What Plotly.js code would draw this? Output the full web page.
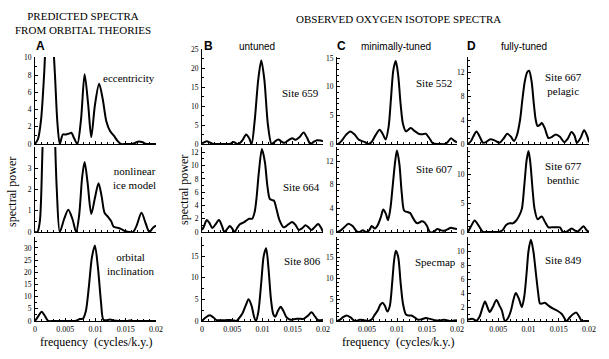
<!DOCTYPE html>
<html>
<head>
<meta charset="utf-8">
<script src="https://cdn.plot.ly/plotly-3.0.1.min.js"></script>
<style>html,body{margin:0;padding:0;background:#fff;}#chart{width:609px;height:359px;}</style>
</head>
<body>
<div id="chart"></div>
<script>
// ---------- DATA (frequency in cycles/k.y., spectral power) ----------
const ecc_f = [0,0.0005,0.001,0.0015,0.002,0.0024,0.0028,0.0033,0.0037,0.0041,0.0046,0.0051,0.0056,0.006,0.0065,0.007,0.0076,0.0082,0.0088,0.0093,0.0099,0.0106,0.0112,0.0118,0.0124,0.013,0.0136,0.0142,0.015,0.016,0.0166,0.0172,0.0178,0.0184,0.019,0.02];
const ecc_p = [0,0.6,2.8,8,15,17,14,8,2.5,0,1.1,1.1,1.2,1.3,0.6,0,2.8,8.1,4.5,0.8,4.5,7,5.2,2.6,1.5,1,0.4,0,0,0,0.15,0.3,0.2,0,0,0];

const ice_f = [0,0.0004,0.0008,0.0012,0.0016,0.002,0.0024,0.0028,0.0032,0.0036,0.0041,0.0048,0.0055,0.0062,0.0068,0.0073,0.0078,0.0082,0.0087,0.0093,0.0099,0.0105,0.011,0.0115,0.0121,0.0126,0.013,0.0136,0.0142,0.0148,0.0155,0.0162,0.0168,0.0176,0.0183,0.0189,0.0195,0.02];
const ice_p = [0,0,0.5,3.5,8,12,13,10,5.5,2,0,0.6,1.05,0.6,0,0.8,2.6,3.3,2.3,0.85,1.6,2.3,1.7,0.9,0.7,0.5,0.25,0.2,0.15,0.05,0,0,0.3,0.9,0.4,0,0.2,0.3];

const inc_f = [0,0.0005,0.0011,0.0017,0.0022,0.003,0.004,0.005,0.006,0.0068,0.0074,0.0079,0.0084,0.0089,0.0094,0.0099,0.0104,0.0109,0.0113,0.0118,0.0124,0.013,0.014,0.0152,0.0157,0.0163,0.017,0.018,0.019,0.02];
const inc_p = [0,1.8,3.8,1.8,0,0,0,0,0,0.1,0.8,0.9,4,14,26,31,22,8,0.5,0.3,0.6,0.2,0,0,0.25,0,0,0,0,0];

const s659_f = [0,0.0003,0.0008,0.0013,0.0019,0.003,0.004,0.0046,0.0052,0.006,0.0067,0.0073,0.0078,0.0082,0.0087,0.0093,0.0098,0.0103,0.0109,0.0115,0.012,0.0126,0.0131,0.0136,0.0142,0.0149,0.0155,0.0161,0.0168,0.0174,0.0179,0.0185,0.019,0.0196,0.02];
const s659_p = [0.2,0.4,0.7,0.4,0,0,0,0,0.5,0,1,2.5,1.5,0,6,17,22,17,5,0,0.6,1.2,0.7,0.3,0.9,1.5,1.1,1.8,3,1.5,0,0.6,1,0.9,0.7];

const s664_f = [0,0.0003,0.0008,0.0012,0.0017,0.0022,0.0028,0.0033,0.0037,0.0042,0.0046,0.005,0.0054,0.0058,0.0063,0.0068,0.0073,0.0078,0.0083,0.0087,0.009,0.0094,0.0099,0.0104,0.0108,0.0112,0.0116,0.0119,0.0123,0.0128,0.0135,0.0142,0.0149,0.0155,0.016,0.0166,0.0171,0.0176,0.0181,0.0186,0.0192,0.0197,0.02];
const s664_p = [0.3,0.8,1.8,1.4,0.6,1.1,1.8,0.9,0,0.5,0.9,0.5,0,0.6,1.2,1.4,1.7,2,2,3,5,9,12.5,10.5,7,5,4.8,4.7,3.5,1.8,0.7,1.1,1.5,1,0.3,0.6,1,0.7,0.3,0.7,1.2,0.6,0];

const s806_f = [0,0.0006,0.0013,0.0019,0.0024,0.003,0.004,0.005,0.0057,0.0062,0.0067,0.0072,0.0077,0.0082,0.0086,0.0089,0.0093,0.0098,0.0102,0.0106,0.011,0.0114,0.0118,0.0121,0.0126,0.013,0.0135,0.014,0.0146,0.0152,0.0157,0.0163,0.0168,0.0175,0.0181,0.0187,0.0192,0.0197,0.02];
const s806_p = [0,0.8,1.3,0.8,0.2,0.2,0.2,0.2,0,0.8,1.8,3.5,5,3.5,1,0,2,9,15,16.8,12,5,1.5,1,2.5,3.3,2.2,0.8,0.3,0.4,0.5,0.5,0.5,1.2,2,1,0.2,0.2,0.3];

const s552_f = [0,0.0002,0.0008,0.0015,0.0022,0.0029,0.0036,0.0042,0.0047,0.0052,0.0058,0.0064,0.0071,0.0076,0.0081,0.0086,0.009,0.0094,0.0098,0.0102,0.0106,0.011,0.0115,0.0119,0.0123,0.0129,0.0136,0.0142,0.0148,0.0154,0.016,0.017,0.018,0.0185,0.019,0.0195,0.02];
const s552_p = [0,0,0.6,1.6,2.2,1.7,0.8,0.5,0.3,0,0.4,1.5,2.5,1.8,0.8,3,8,13,14.5,12,7,3.5,2.2,2.5,2.8,2.3,1.8,1.7,1.8,1,0.1,0,0,0.4,1,0.6,0.3];

const s607_f = [0,0.0005,0.0012,0.0019,0.0026,0.0033,0.0038,0.0043,0.0048,0.0053,0.0058,0.0063,0.0068,0.0073,0.0077,0.0081,0.0085,0.0089,0.0093,0.0097,0.01,0.0104,0.0108,0.0112,0.0117,0.0122,0.0127,0.0133,0.0137,0.0141,0.0146,0.015,0.0155,0.0161,0.0167,0.0173,0.0179,0.0185,0.019,0.0195,0.02];
const s607_p = [0,0.2,0.8,1.4,1,0.1,0,0.3,0,0.2,1,0.6,1.2,2.5,3.8,3.2,2,4,8,12,13.8,11.5,6.5,3.6,3.4,3.2,2.3,1.5,1.6,1.8,1.6,1,0,0,0.5,0.3,0.2,0.5,0.7,0.6,0.5];

const spec_f = [0,0.0005,0.001,0.0016,0.0022,0.003,0.0038,0.0045,0.0052,0.0058,0.0063,0.0068,0.0072,0.0076,0.008,0.0084,0.0088,0.0092,0.0095,0.0098,0.0102,0.0106,0.011,0.0115,0.012,0.0124,0.013,0.0135,0.0141,0.0148,0.0155,0.0163,0.017,0.0178,0.0185,0.019,0.0195,0.02];
const spec_p = [0,0.3,0.9,1.3,0.9,0,0.3,0.2,0,0.4,1.5,2.5,3.8,4.3,3.5,2.2,3.5,9,14,16.5,15,9,4,1.5,1.3,1.3,0.8,0.3,0.4,0.7,0.5,0.2,0.1,0.3,0.1,0,0.1,0.2];

const s667_f = [0,0.0005,0.0009,0.0014,0.0019,0.0025,0.0031,0.0037,0.0044,0.0052,0.0058,0.0065,0.0071,0.0076,0.0081,0.0086,0.009,0.0094,0.0098,0.0101,0.0105,0.0109,0.0112,0.0115,0.0119,0.0122,0.0127,0.0133,0.0139,0.0145,0.0152,0.0159,0.0165,0.0171,0.0176,0.018,0.0186,0.0192,0.0197,0.02];
const s667_p = [0,0.5,1.3,2.1,1.3,0.2,0.4,0.8,0.6,0.2,0.8,1.7,1.2,0.5,1.5,4,7.5,10.5,12,12.2,10.5,6.5,4,3,3.2,3.5,2.6,1,1.2,1.6,1.2,0.3,0.9,2,1.4,0.2,1,2.3,1.3,0.3];

const s677_f = [0,0.0005,0.0011,0.0017,0.0025,0.003,0.004,0.0049,0.0057,0.0063,0.0069,0.0074,0.0079,0.0084,0.0089,0.0093,0.0097,0.01,0.0103,0.0107,0.011,0.0115,0.0119,0.0122,0.0127,0.0133,0.0138,0.0144,0.0152,0.0157,0.0164,0.0171,0.0176,0.0181,0.0186,0.0191,0.0196,0.02];
const s677_p = [0,1,2,1.2,0,0,0,0,0.3,1.2,1.5,1.5,1.9,2.7,4,8,12.5,14,12,7,4,2.2,2.5,2.7,1.8,0.8,0.8,0.8,0.8,0,0.1,0.6,0.3,0.1,0.5,1,0.3,0];

const s849_f = [0,0.0008,0.0014,0.0019,0.0024,0.0028,0.0032,0.0036,0.0041,0.0047,0.0052,0.0056,0.0061,0.0066,0.0071,0.0075,0.0079,0.0084,0.0089,0.0093,0.0097,0.01,0.0104,0.0108,0.0112,0.0116,0.0119,0.0123,0.0127,0.0133,0.014,0.0147,0.0155,0.0163,0.0168,0.0174,0.0179,0.0184,0.0188,0.0194,0.02];
const s849_p = [0.2,0.3,0.05,0.6,1.9,2.8,2,1.3,2,3,2.2,1.5,0,0.4,1.5,3,4,3.2,2,3.5,7,10,11.6,10,7,4,2.5,2.5,2.6,2.2,1.8,1.5,1,0,0.5,1,1.2,0.6,0,0,0];

const xTickVals = [0, 0.005, 0.01, 0.015, 0.02];
const xTickText = ['0', '0.005', '0.01', '0.015', '0.02'];

// ---------- PANELS ----------
const W = 609, H = 359;
const colX = [[35,156],[202,323],[337,457],[468,589]];
const rowY = [[57,144],[147,232],[237,321]];

const panels = [
  {f: ecc_f,  p: ecc_p,  c:0, r:0, range:[0,10.1], tv:[0,2,4,6,8,10], minor:1},
  {f: ice_f,  p: ice_p,  c:0, r:1, range:[0,4],    tv:[0,1,2,3], minor:0.5},
  {f: inc_f,  p: inc_p,  c:0, r:2, range:[0,34.5], tv:[0,5,10,15,20,25,30], minor:2.5},
  {f: s659_f, p: s659_p, c:1, r:0, range:[0,25],   tv:[0,5,10,15,20,25], minor:2.5, top:49},
  {f: s664_f, p: s664_p, c:1, r:1, range:[0,12.8], tv:[0,2,4,6,8,10,12], minor:1},
  {f: s806_f, p: s806_p, c:1, r:2, range:[0,19.4], tv:[0,5,10,15], minor:2.5},
  {f: s552_f, p: s552_p, c:2, r:0, range:[0,15.2], tv:[0,5,10,15], minor:1},
  {f: s607_f, p: s607_p, c:2, r:1, range:[0,14.4], tv:[0,4,8,12], minor:1},
  {f: spec_f, p: spec_p, c:2, r:2, range:[0,19.7], tv:[0,5,10,15], minor:1},
  {f: s667_f, p: s667_p, c:3, r:0, range:[0,14.5], tv:[0,4,8,12], minor:1},
  {f: s677_f, p: s677_p, c:3, r:1, range:[0,14.7], tv:[0,5,10], minor:1},
  {f: s849_f, p: s849_p, c:3, r:2, range:[0,12],   tv:[0,2,4,6,8,10], minor:1}
];

const serif = 'Liberation Serif, Times New Roman, serif';
const sans = 'Liberation Sans, Arial, sans-serif';

const data = [];
const layout = {
  width: W, height: H,
  margin: {l:0, r:0, t:0, b:0},
  paper_bgcolor: '#fff', plot_bgcolor: 'rgba(0,0,0,0)',
  showlegend: false,
  annotations: []
};

panels.forEach((pn, i) => {
  const n = i === 0 ? '' : String(i + 1);
  const top = pn.top !== undefined ? pn.top : rowY[pn.r][0];
  const bottom = rowY[pn.r][1];
  data.push({
    x: pn.f, y: pn.p, type: 'scatter', mode: 'lines',
    xaxis: 'x' + n, yaxis: 'y' + n,
    line: {color: '#000', width: 2, shape: 'spline', smoothing: 0.8},
    hoverinfo: 'skip'
  });
  const bottomRow = pn.r === 2;
  let ttext = xTickText.slice();
  if (pn.c >= 2) ttext[0] = '';
  layout['xaxis' + n] = {
    domain: [colX[pn.c][0] / W, colX[pn.c][1] / W],
    anchor: 'y' + n,
    range: [0, 0.02],
    showline: true, linecolor: '#000', linewidth: 1,
    ticks: 'inside', ticklen: 3, tickwidth: 1, tickcolor: '#000',
    tickmode: 'array', tickvals: xTickVals, ticktext: ttext,
    minor: {ticks: 'inside', ticklen: 2, tickcolor: '#000', dtick: 0.001, tick0: 0, showgrid: false},
    showticklabels: bottomRow,
    tickfont: {family: serif, size: 8, color: '#000'},
    showgrid: false, zeroline: false, fixedrange: true
  };
  layout['yaxis' + n] = {
    domain: [1 - bottom / H, 1 - top / H],
    anchor: 'x' + n,
    range: pn.range,
    showline: true, linecolor: '#000', linewidth: 1,
    ticks: 'inside', ticklen: 3, tickwidth: 1, tickcolor: '#000',
    tickmode: 'array', tickvals: pn.tv,
    minor: {ticks: 'inside', ticklen: 2, tickcolor: '#000', dtick: pn.minor, tick0: 0, showgrid: false},
    tickfont: {family: serif, size: 7.5, color: '#000'},
    ticklabelstandoff: 1,
    showgrid: false, zeroline: false, fixedrange: true
  };
});

function ann(text, px, py, font, extra) {
  layout.annotations.push(Object.assign({
    text: text, xref: 'paper', yref: 'paper',
    x: px / W, y: 1 - py / H, xanchor: 'center', yanchor: 'middle',
    showarrow: false, font: font
  }, extra || {}));
}
const fTitle = {family: serif, size: 11, color: '#000'};
const fLab = {family: serif, size: 11, color: '#000'};
const fLetter = {family: sans, size: 12, color: '#000', weight: 'bold'};
const fSub = {family: sans, size: 10, color: '#000'};

ann('PREDICTED SPECTRA<br>FROM ORBITAL THEORIES', 83, 23, fTitle);
ann('OBSERVED OXYGEN ISOTOPE SPECTRA', 398, 19, fTitle);
ann('<b>A</b>', 40, 46, fLetter);
ann('<b>B</b>', 208, 46, fLetter);
ann('untuned', 257, 46, fSub);
ann('<b>C</b>', 341, 46, fLetter);
ann('minimally-tuned', 396, 46, fSub);
ann('<b>D</b>', 471, 46, fLetter);
ann('fully-tuned', 524, 46, fSub);

ann('spectral power', 12, 192, {family: serif, size: 12, color: '#000'}, {textangle: -90});
ann('spectral power', 184, 190, {family: serif, size: 12, color: '#000'}, {textangle: -90});
ann('frequency  (cycles/k.y.)', 96, 342, {family: serif, size: 12, color: '#000'});
ann('frequency  (cycles/k.y.)', 398, 342, {family: serif, size: 12, color: '#000'});

ann('eccentricity', 129, 78, fLab);
ann('nonlinear<br>ice model', 134, 178, fLab);
ann('orbital<br>inclination', 131, 264, fLab);
ann('Site 659', 300, 93, fLab);
ann('Site 664', 301, 187, fLab);
ann('Site 806', 302, 261, fLab);
ann('Site 552', 434, 83, fLab);
ann('Site 607', 434, 169, fLab);
ann('Specmap', 435, 262, fLab);
ann('Site 667<br>pelagic', 563, 84, fLab);
ann('Site 677<br>benthic', 563, 173, fLab);
ann('Site 849', 563, 260, fLab);

Plotly.newPlot('chart', data, layout, {staticPlot: true, displayModeBar: false});
</script>
</body>
</html>
